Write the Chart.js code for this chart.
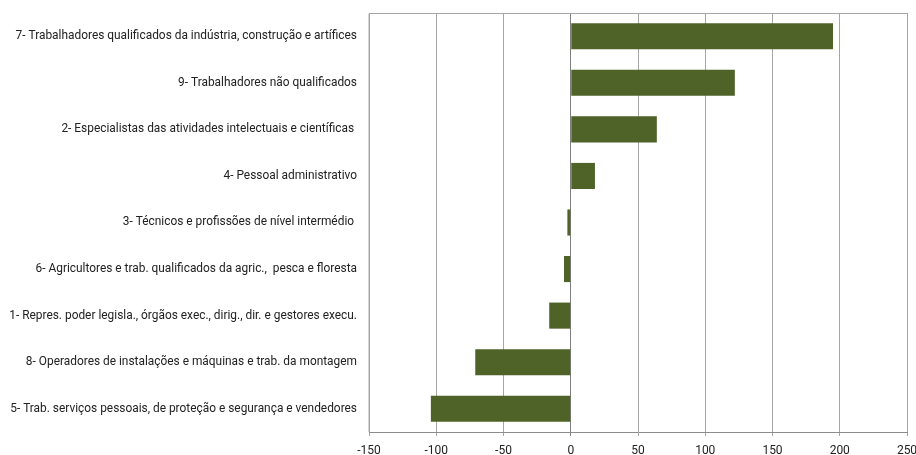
<!DOCTYPE html>
<html>
<head>
<meta charset="utf-8">
<script src="https://cdn.jsdelivr.net/npm/chart.js@4"></script>
<style>
  html, body { margin: 0; padding: 0; background: #fff; }
  #wrap { width: 916px; height: 455px; }
</style>
</head>
<body>
<div id="wrap"><canvas id="myChart" width="916" height="455"></canvas></div>
<script>
// categorias (profissões)
var categorias = [
  '7- Trabalhadores qualificados da indústria, construção e artífices',
  '9- Trabalhadores não qualificados',
  '2- Especialistas das atividades intelectuais e científicas ',
  '4- Pessoal administrativo',
  '3- Técnicos e profissões de nível intermédio ',
  '6- Agricultores e trab. qualificados da agric.,  pesca e floresta',
  '1- Repres. poder legisla., órgãos exec., dirig., dir. e gestores execu.',
  '8- Operadores de instalações e máquinas e trab. da montagem',
  '5- Trab. serviços pessoais, de proteção e segurança e vendedores'
];
var valores = [195, 122, 64, 18, -2.5, -5, -16, -71, -104];
var eixoMin = -150, eixoMax = 250, eixoPasso = 50;

var verde = '#4F6228';

// moldura da área do gráfico
var moldura = {
  id: 'moldura',
  afterDraw: function (chart) {
    var a = chart.chartArea, c = chart.ctx;
    c.save();
    c.strokeStyle = '#a6a6a6';
    c.lineWidth = 1;
    c.beginPath();
    c.moveTo(a.left, a.bottom);
    c.lineTo(a.left, a.top + 0.5);
    c.lineTo(a.right, a.top + 0.5);
    c.stroke();
    c.restore();
  }
};

var ctx = document.getElementById('myChart').getContext('2d');
var grafico = new Chart(ctx, {
  type: 'bar',
  data: {
    labels: categorias,
    datasets: [{
      data: valores,
      backgroundColor: verde,
      borderWidth: 0,
      barPercentage: 0.56,
      categoryPercentage: 1
    }]
  },
  options: {
    indexAxis: 'y',
    responsive: false,
    animation: false,
    layout: { padding: { top: 13, right: 9, left: 0, bottom: 0 } },
    plugins: { legend: { display: false }, tooltip: { enabled: false } },
    scales: {
      x: {
        min: eixoMin,
        max: eixoMax,
        ticks: {
          stepSize: eixoPasso,
          color: '#222',
          padding: 8,
          maxRotation: 0,
          font: { family: 'Roboto', size: 12 }
        },
        grid: {
          color: function (c) { return c.tick && c.tick.value === 0 ? '#7f7f7f' : '#a6a6a6'; },
          tickLength: 4
        },
        border: { display: true, color: '#8c8c8c' },
        afterFit: function (s) { s.height = 23; s.paddingLeft = 0; s.paddingRight = 0; }
      },
      y: {
        grid: { display: false, drawTicks: false },
        border: { display: false },
        ticks: {
          color: '#222',
          padding: 12,
          autoSkip: false,
          font: { family: 'Roboto', size: 11.9 }
        },
        afterFit: function (s) { s.width = 369; s.paddingTop = 0; s.paddingBottom = 0; }
      }
    }
  },
  plugins: [moldura]
});
</script>
</body>
</html>
